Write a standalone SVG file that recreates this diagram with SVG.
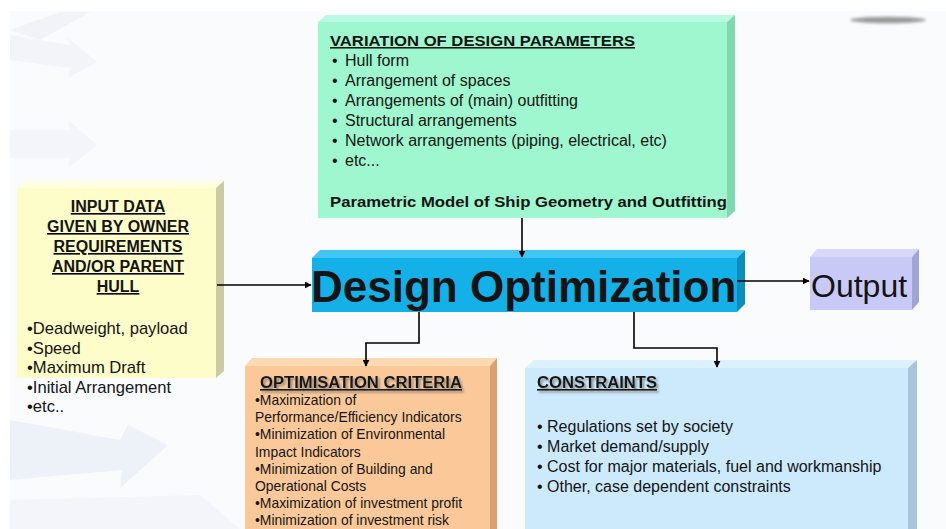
<svg xmlns="http://www.w3.org/2000/svg" width="946" height="529" viewBox="0 0 946 529">
<defs>
<style>
text{font-family:"Liberation Sans",Arial,sans-serif;fill:#141414}
.b{font-weight:bold}
.u{text-decoration:underline}
.c{stroke:#000;stroke-width:1.6;fill:none}
</style>
<marker id="ah" viewBox="0 0 10 10" refX="9" refY="5" markerWidth="7" markerHeight="7" orient="auto" markerUnits="userSpaceOnUse">
<path d="M0,0 L10,5 L0,10 z" fill="#000"/>
</marker>
<filter id="blur" x="-20%" y="-200%" width="140%" height="500%"><feGaussianBlur stdDeviation="1.5"/></filter>
<filter id="ds" x="-5%" y="-30%" width="110%" height="170%"><feDropShadow dx="2" dy="2" stdDeviation="0.8" flood-color="#6a6a6a" flood-opacity="0.7"/></filter>
</defs>
<rect x="0" y="0" width="946" height="529" fill="#ffffff"/>
<g id="background">
<rect x="10" y="11" width="936" height="518" fill="#fafbfd"/>
<polygon points="10,30 60,12 90,12 40,40" fill="#f1f3f9"/>
<polygon points="10,35 70,45 68,38 97,62 68,78 70,68 10,60" fill="#f2f4fa"/>
<polygon points="10,130 70,130 68,120 97,145 68,168 70,158 10,158" fill="#f3f5fa"/>
<polygon points="10,420 120,440 128,425 168,445 120,488 122,470 10,480" fill="#edf1f8"/>
<polygon points="10,500 200,495 240,529 10,529" fill="#f3f5fa"/>
<ellipse cx="888" cy="20" rx="38" ry="3.2" fill="#9a9a9a" filter="url(#blur)"/>
</g>
<g id="variation">
<polygon points="318,22 326,15 735,15 727,22" fill="#b8fbe0"/>
<polygon points="727,22 735,15 735,211 727,218" fill="#7fd8ae"/>
<rect x="318" y="22" width="409" height="196" fill="#9ff7cf"/>
<text x="330" y="46" font-size="15.5" class="b u" textLength="305" lengthAdjust="spacingAndGlyphs">VARIATION OF DESIGN PARAMETERS</text>
<g font-size="16">
<text x="332" y="66">•</text><text x="345" y="66">Hull form</text>
<text x="332" y="86">•</text><text x="345" y="86">Arrangement of spaces</text>
<text x="332" y="106">•</text><text x="345" y="106">Arrangements of (main) outfitting</text>
<text x="332" y="126">•</text><text x="345" y="126">Structural arrangements</text>
<text x="332" y="146">•</text><text x="345" y="146">Network arrangements (piping, electrical, etc)</text>
<text x="332" y="166">•</text><text x="345" y="166">etc...</text>
</g>
<text x="330" y="207" font-size="15" class="b" textLength="397" lengthAdjust="spacingAndGlyphs">Parametric Model of Ship Geometry and Outfitting</text>
</g>
<g id="input">
<polygon points="17,188 25,181 224,181 216,188" fill="#fefee0"/>
<polygon points="216,188 224,181 224,371 216,378" fill="#cbcaa2"/>
<rect x="17" y="188" width="199" height="190" fill="#fdfdc9"/>
<g font-size="16" class="b u" text-anchor="middle">
<text x="118" y="212">INPUT DATA</text>
<text x="118" y="232">GIVEN BY OWNER</text>
<text x="118" y="252">REQUIREMENTS</text>
<text x="118" y="272">AND/OR PARENT</text>
<text x="118" y="292">HULL</text>
</g>
<g font-size="16.6">
<text x="27" y="334">•Deadweight, payload</text>
<text x="27" y="354">•Speed</text>
<text x="27" y="373">•Maximum Draft</text>
<text x="27" y="393">•Initial Arrangement</text>
<text x="27" y="412">•etc..</text>
</g>
</g>
<g id="design-optimization">
<polygon points="312,258 320,250 745,250 737,258" fill="#40c6f3"/>
<polygon points="737,258 745,250 745,304 737,312" fill="#0c8dbd"/>
<rect x="312" y="258" width="425" height="54" fill="#14b1e9"/>
<text x="311" y="302" font-size="44" class="b" fill="#0a0a0a">Design Optimization</text>
</g>
<g id="output">
<polygon points="810,257 817,249 919,249 912,257" fill="#d8d8fb"/>
<polygon points="912,257 919,249 919,302 912,310" fill="#a3a3d6"/>
<rect x="810" y="257" width="102" height="53" fill="#c9c9f7"/>
<text x="811" y="297" font-size="32">Output</text>
</g>
<g id="criteria">
<polygon points="245,366 252,358 497,358 490,366" fill="#fdd8b0"/>
<polygon points="490,366 497,358 497,529 490,529" fill="#d9a070"/>
<rect x="245" y="366" width="245" height="170" fill="#fbc999"/>
<text x="260" y="388" font-size="16" class="b u" textLength="202" lengthAdjust="spacingAndGlyphs" filter="url(#ds)">OPTIMISATION CRITERIA</text>
<g font-size="13.9">
<text x="255" y="405">•Maximization of</text>
<text x="255" y="422.2">Performance/Efficiency Indicators</text>
<text x="255" y="439.4">•Minimization of Environmental</text>
<text x="255" y="456.6">Impact Indicators</text>
<text x="255" y="473.8">•Minimization of Building and</text>
<text x="255" y="491">Operational Costs</text>
<text x="255" y="508.2">•Maximization of investment profit</text>
<text x="255" y="525.4">•Minimization of investment risk</text>
</g>
</g>
<g id="constraints">
<polygon points="525,368 534,360 917,360 908,368" fill="#dcf1fd"/>
<polygon points="908,368 917,360 917,529 908,529" fill="#a9c3da"/>
<rect x="525" y="368" width="383" height="165" fill="#cdeafc"/>
<text x="537" y="388" font-size="16" class="b u" textLength="120" lengthAdjust="spacingAndGlyphs" filter="url(#ds)">CONSTRAINTS</text>
<g font-size="16">
<text x="537" y="432">• Regulations set by society</text>
<text x="537" y="452">• Market demand/supply</text>
<text x="537" y="472">• Cost for major materials, fuel and workmanship</text>
<text x="537" y="492">• Other, case dependent constraints</text>
</g>
</g>
<g id="connectors">
<line class="c" x1="217" y1="285" x2="311" y2="285" marker-end="url(#ah)"/>
<line class="c" x1="522" y1="218" x2="522" y2="257" marker-end="url(#ah)"/>
<line class="c" x1="737" y1="281" x2="809" y2="281" marker-end="url(#ah)"/>
<polyline class="c" points="419,312 419,343 366,343 366,366" marker-end="url(#ah)"/>
<polyline class="c" points="634,312 634,348 717,348 717,367" marker-end="url(#ah)"/>
</g>
</svg>
